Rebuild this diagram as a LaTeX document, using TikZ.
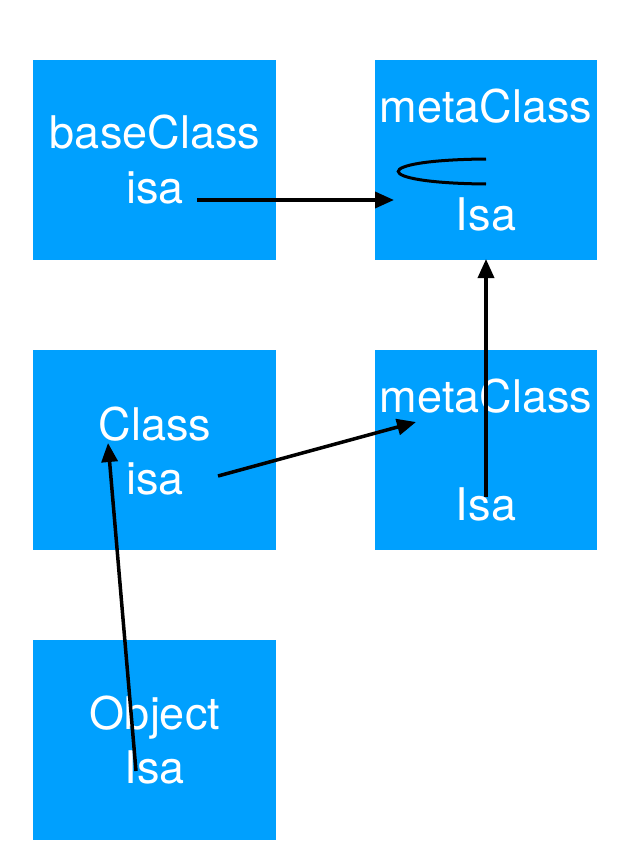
\documentclass[tikz,border=0pt]{standalone}
\usepackage{fontspec}
\setmainfont{TeX Gyre Heros}
\usetikzlibrary{arrows.meta}
\definecolor{boxblue}{HTML}{00A0FE}
\tikzset{
  box/.style={fill=boxblue, draw=none, inner sep=0pt, anchor=north west},
  lbl/.style={text=white, inner sep=0pt, anchor=base, font=\fontsize{45}{54}\selectfont},
  link/.style={line width=3.5pt, -{Triangle[length=19pt,width=16pt]}},
  loopline/.style={line width=3pt}
}
\begin{document}
\begin{tikzpicture}[x=1pt,y=-1pt]
\useasboundingbox (0,0) rectangle (628,856);
% boxes
\node[box, minimum width=243pt, minimum height=200pt] (b1) at (33,60) {};
\node[box, minimum width=222pt, minimum height=200pt] (m1) at (375,60) {};
\node[box, minimum width=243pt, minimum height=200pt] (c2) at (33,350) {};
\node[box, minimum width=222pt, minimum height=200pt] (m2) at (375,350) {};
\node[box, minimum width=243pt, minimum height=200pt] (o3) at (33,640) {};
% labels
\node[lbl] (t1) at (155,148) {baseClass};
\node[lbl] (t2) at (155,203) {isa};
\node[lbl] (t3) at (486,122) {metaClass};
\node[lbl] (t4) at (486,230) {Isa};
\node[lbl] (t5) at (155,440) {Class};
\node[lbl] (t6) at (155,494) {isa};
\node[lbl] (t7) at (486,412) {metaClass};
\node[lbl] (t8) at (486,520) {Isa};
\node[lbl] (t9) at (155,729) {Object};
\node[lbl] (t10) at (155,783) {Isa};
% connector end points
\coordinate (a1s) at (197,200);
\coordinate (a1e) at (394,200);
\coordinate (a2s) at (218,476);
\coordinate (a2e) at (416,422);
\coordinate (a3s) at (486,497);
\coordinate (a3e) at (486,259);
\coordinate (a4s) at (136,771);
\coordinate (a4e) at (108,443);
\coordinate (l1) at (486,159);
\coordinate (l2) at (486,184);
% connectors
\draw[link] (a1s) -- (a1e);
\draw[link] (a2s) -- (a2e);
\draw[link] (a3s) -- (a3e);
\draw[link] (a4s) -- (a4e);
\draw[loopline] (l1) .. controls (368,160) and (370,183) .. (l2);
\end{tikzpicture}
\end{document}
